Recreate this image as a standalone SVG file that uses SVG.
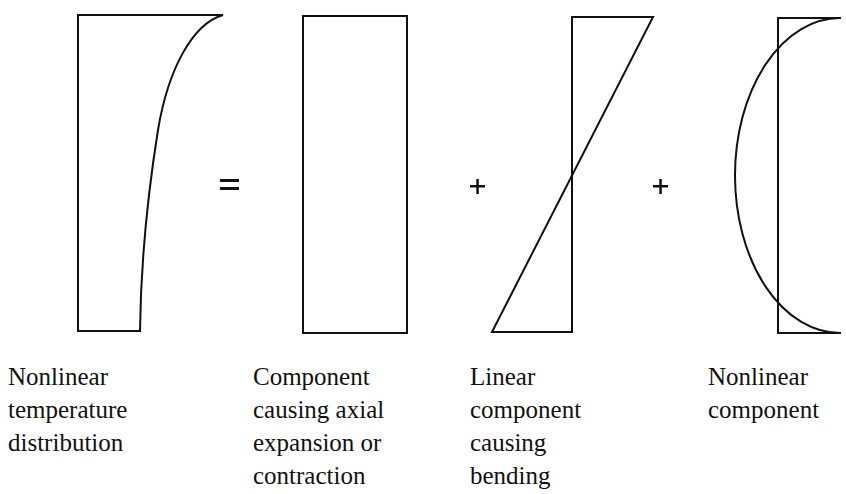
<svg xmlns="http://www.w3.org/2000/svg" width="846" height="494" viewBox="0 0 846 494">
<style>
.ln{fill:none;stroke:#111;stroke-width:2;stroke-linejoin:miter;stroke-linecap:square}
.op{fill:#111}
.lbl{font-family:"Liberation Serif","Times New Roman",serif;font-size:25px;fill:#111}
</style>
<rect width="846" height="494" fill="#fff"/>
<g id="nonlinear-distribution">
<path class="ln" d="M140,331 H78 V15 H223 C192,24 168,70 158,130 C150,180 141,250 140,331"/>
<text class="lbl" x="8" y="385">Nonlinear</text>
<text class="lbl" x="8" y="418">temperature</text>
<text class="lbl" x="8" y="451">distribution</text>
</g>
<g id="axial-component">
<rect class="ln" x="303" y="16" width="104" height="317"/>
<text class="lbl" x="253" y="385">Component</text>
<text class="lbl" x="253" y="418">causing axial</text>
<text class="lbl" x="253" y="451">expansion or</text>
<text class="lbl" x="253" y="484">contraction</text>
</g>
<g id="linear-component">
<path class="ln" d="M572,17 H653 L492,332 H572 Z"/>
<text class="lbl" x="470" y="385">Linear</text>
<text class="lbl" x="470" y="418">component</text>
<text class="lbl" x="470" y="451">causing</text>
<text class="lbl" x="470" y="484">bending</text>
</g>
<g id="nonlinear-component">
<path class="ln" d="M840,18 H778 V333 H840"/>
<path class="ln" d="M840,18 A105,157.5 0 0 0 840,333"/>
<text class="lbl" x="708" y="385">Nonlinear</text>
<text class="lbl" x="708" y="418">component</text>
</g>
<g id="operators">
<rect class="op" x="220" y="179" width="19" height="3"/>
<rect class="op" x="220" y="187" width="19" height="3"/>
<rect class="op" x="470" y="185" width="15" height="2.5"/>
<rect class="op" x="476.3" y="179" width="2.5" height="15"/>
<rect class="op" x="653" y="185" width="15" height="2.5"/>
<rect class="op" x="659.3" y="179" width="2.5" height="15"/>
</g>
</svg>
